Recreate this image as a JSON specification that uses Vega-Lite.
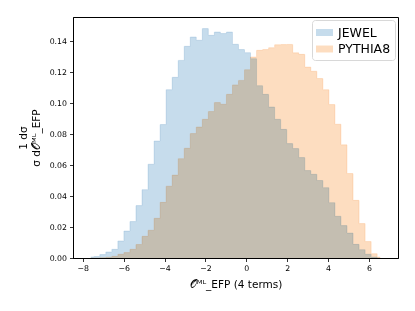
{
  "$schema": "https://vega.github.io/schema/vega-lite/v6.json",
  "width": 325,
  "height": 241,
  "autosize": {"type": "none"},
  "padding": {"left": 73, "top": 17, "right": 17, "bottom": 53},
  "background": "white",
  "config": {
    "font": "DejaVu Sans",
    "view": {"stroke": "black", "strokeWidth": 1},
    "axis": {
      "grid": false,
      "domainColor": "black",
      "tickColor": "black",
      "labelColor": "black",
      "titleColor": "black",
      "tickSize": 3.5,
      "tickWidth": 0.8,
      "domainWidth": 1,
      "labelFontSize": 7.8,
      "labelPadding": 3,
      "titleFontSize": 10.5,
      "titleFontWeight": "normal",
      "labelFont": "DejaVu Sans",
      "titleFont": "DejaVu Sans"
    }
  },
  "data": {
    "values": [
      {"sample": "JEWEL", "x": -7.612, "density": 0.0007},
      {"sample": "JEWEL", "x": -7.317, "density": 0.0009},
      {"sample": "JEWEL", "x": -7.022, "density": 0.0022},
      {"sample": "JEWEL", "x": -6.727, "density": 0.0039},
      {"sample": "JEWEL", "x": -6.432, "density": 0.0056},
      {"sample": "JEWEL", "x": -6.137, "density": 0.0110},
      {"sample": "JEWEL", "x": -5.842, "density": 0.0174},
      {"sample": "JEWEL", "x": -5.547, "density": 0.0235},
      {"sample": "JEWEL", "x": -5.252, "density": 0.0338},
      {"sample": "JEWEL", "x": -4.957, "density": 0.0441},
      {"sample": "JEWEL", "x": -4.662, "density": 0.0605},
      {"sample": "JEWEL", "x": -4.367, "density": 0.0755},
      {"sample": "JEWEL", "x": -4.072, "density": 0.0861},
      {"sample": "JEWEL", "x": -3.777, "density": 0.1086},
      {"sample": "JEWEL", "x": -3.482, "density": 0.1166},
      {"sample": "JEWEL", "x": -3.187, "density": 0.1275},
      {"sample": "JEWEL", "x": -2.892, "density": 0.1366},
      {"sample": "JEWEL", "x": -2.597, "density": 0.1426},
      {"sample": "JEWEL", "x": -2.302, "density": 0.1405},
      {"sample": "JEWEL", "x": -2.007, "density": 0.1480},
      {"sample": "JEWEL", "x": -1.712, "density": 0.1437},
      {"sample": "JEWEL", "x": -1.417, "density": 0.1458},
      {"sample": "JEWEL", "x": -1.122, "density": 0.1448},
      {"sample": "JEWEL", "x": -0.827, "density": 0.1458},
      {"sample": "JEWEL", "x": -0.532, "density": 0.1379},
      {"sample": "JEWEL", "x": -0.237, "density": 0.1345},
      {"sample": "JEWEL", "x": 0.058, "density": 0.1325},
      {"sample": "JEWEL", "x": 0.353, "density": 0.1286},
      {"sample": "JEWEL", "x": 0.648, "density": 0.1112},
      {"sample": "JEWEL", "x": 0.943, "density": 0.1056},
      {"sample": "JEWEL", "x": 1.238, "density": 0.0974},
      {"sample": "JEWEL", "x": 1.533, "density": 0.0895},
      {"sample": "JEWEL", "x": 1.828, "density": 0.0830},
      {"sample": "JEWEL", "x": 2.123, "density": 0.0738},
      {"sample": "JEWEL", "x": 2.418, "density": 0.0706},
      {"sample": "JEWEL", "x": 2.713, "density": 0.0648},
      {"sample": "JEWEL", "x": 3.008, "density": 0.0564},
      {"sample": "JEWEL", "x": 3.303, "density": 0.0540},
      {"sample": "JEWEL", "x": 3.598, "density": 0.0500},
      {"sample": "JEWEL", "x": 3.893, "density": 0.0454},
      {"sample": "JEWEL", "x": 4.188, "density": 0.0357},
      {"sample": "JEWEL", "x": 4.483, "density": 0.0269},
      {"sample": "JEWEL", "x": 4.778, "density": 0.0209},
      {"sample": "JEWEL", "x": 5.073, "density": 0.0161},
      {"sample": "JEWEL", "x": 5.368, "density": 0.0088},
      {"sample": "JEWEL", "x": 5.663, "density": 0.0054},
      {"sample": "JEWEL", "x": 5.958, "density": 0.0024},
      {"sample": "JEWEL", "x": 6.253, "density": 0.0006},
      {"sample": "JEWEL", "x": 6.548, "density": 0.0},
      {"sample": "PYTHIA8", "x": -7.612, "density": 0.0},
      {"sample": "PYTHIA8", "x": -7.317, "density": 0.0},
      {"sample": "PYTHIA8", "x": -7.022, "density": 0.0002},
      {"sample": "PYTHIA8", "x": -6.727, "density": 0.0005},
      {"sample": "PYTHIA8", "x": -6.432, "density": 0.0011},
      {"sample": "PYTHIA8", "x": -6.137, "density": 0.0024},
      {"sample": "PYTHIA8", "x": -5.842, "density": 0.0035},
      {"sample": "PYTHIA8", "x": -5.547, "density": 0.0056},
      {"sample": "PYTHIA8", "x": -5.252, "density": 0.0087},
      {"sample": "PYTHIA8", "x": -4.957, "density": 0.0140},
      {"sample": "PYTHIA8", "x": -4.662, "density": 0.0179},
      {"sample": "PYTHIA8", "x": -4.367, "density": 0.0256},
      {"sample": "PYTHIA8", "x": -4.072, "density": 0.0359},
      {"sample": "PYTHIA8", "x": -3.777, "density": 0.0463},
      {"sample": "PYTHIA8", "x": -3.482, "density": 0.0535},
      {"sample": "PYTHIA8", "x": -3.187, "density": 0.0641},
      {"sample": "PYTHIA8", "x": -2.892, "density": 0.0708},
      {"sample": "PYTHIA8", "x": -2.597, "density": 0.0803},
      {"sample": "PYTHIA8", "x": -2.302, "density": 0.0845},
      {"sample": "PYTHIA8", "x": -2.007, "density": 0.0895},
      {"sample": "PYTHIA8", "x": -1.712, "density": 0.0945},
      {"sample": "PYTHIA8", "x": -1.417, "density": 0.1003},
      {"sample": "PYTHIA8", "x": -1.122, "density": 0.0992},
      {"sample": "PYTHIA8", "x": -0.827, "density": 0.1056},
      {"sample": "PYTHIA8", "x": -0.532, "density": 0.1117},
      {"sample": "PYTHIA8", "x": -0.237, "density": 0.1146},
      {"sample": "PYTHIA8", "x": 0.058, "density": 0.1215},
      {"sample": "PYTHIA8", "x": 0.353, "density": 0.1297},
      {"sample": "PYTHIA8", "x": 0.648, "density": 0.1340},
      {"sample": "PYTHIA8", "x": 0.943, "density": 0.1345},
      {"sample": "PYTHIA8", "x": 1.238, "density": 0.1357},
      {"sample": "PYTHIA8", "x": 1.533, "density": 0.1376},
      {"sample": "PYTHIA8", "x": 1.828, "density": 0.1377},
      {"sample": "PYTHIA8", "x": 2.123, "density": 0.1378},
      {"sample": "PYTHIA8", "x": 2.418, "density": 0.1324},
      {"sample": "PYTHIA8", "x": 2.713, "density": 0.1314},
      {"sample": "PYTHIA8", "x": 3.008, "density": 0.1232},
      {"sample": "PYTHIA8", "x": 3.303, "density": 0.1205},
      {"sample": "PYTHIA8", "x": 3.598, "density": 0.1158},
      {"sample": "PYTHIA8", "x": 3.893, "density": 0.1086},
      {"sample": "PYTHIA8", "x": 4.188, "density": 0.0990},
      {"sample": "PYTHIA8", "x": 4.483, "density": 0.0863},
      {"sample": "PYTHIA8", "x": 4.778, "density": 0.0730},
      {"sample": "PYTHIA8", "x": 5.073, "density": 0.0545},
      {"sample": "PYTHIA8", "x": 5.368, "density": 0.0372},
      {"sample": "PYTHIA8", "x": 5.663, "density": 0.0222},
      {"sample": "PYTHIA8", "x": 5.958, "density": 0.0106},
      {"sample": "PYTHIA8", "x": 6.253, "density": 0.0028},
      {"sample": "PYTHIA8", "x": 6.548, "density": 0.0006}
    ]
  },
  "encoding": {
    "x": {
      "field": "x",
      "type": "quantitative",
      "scale": {"domain": [-8.48, 7.42], "nice": false, "zero": false},
      "axis": {
        "values": [-8, -6, -4, -2, 0, 2, 4, 6],
        "format": "d",
        "title": "𝒪ᴹᴸ_EFP (4 terms)",
        "titlePadding": 7
      }
    },
    "y": {
      "field": "density",
      "type": "quantitative",
      "stack": null,
      "scale": {"domain": [0, 0.1555], "nice": false, "zero": false},
      "axis": {
        "values": [0, 0.02, 0.04, 0.06, 0.08, 0.1, 0.12, 0.14],
        "format": ".2f",
        "title": ["1    dσ", "σ d𝒪ᴹᴸ_EFP"],
        "titlePadding": 8,
        "titleFontSize": 10.5
      }
    }
  },
  "layer": [
    {
      "mark": {"type": "area", "interpolate": "step", "blend": "multiply", "opacity": 1},
      "encoding": {
        "color": {
          "field": "sample",
          "type": "nominal",
          "scale": {"domain": ["JEWEL", "PYTHIA8"], "range": ["#c6dcec", "#fdddc0"]},
          "legend": {
            "title": null,
            "orient": "top-right",
            "offset": 3,
            "fillColor": "white",
            "strokeColor": "#d8d8d8",
            "cornerRadius": 3,
            "padding": 4,
            "labelFontSize": 12.5,
            "labelFont": "DejaVu Sans",
            "labelColor": "black",
            "labelOffset": 5,
            "rowPadding": 1.5,
            "symbolType": "M-1,-0.41H1V0.41H-1Z",
            "symbolSize": 289,
            "symbolStrokeWidth": 0,
            "symbolOpacity": 1
          }
        }
      }
    },
    {
      "mark": {"type": "line", "interpolate": "step", "blend": "multiply", "strokeWidth": 1, "opacity": 0.6},
      "encoding": {
        "color": {"field": "sample", "type": "nominal", "legend": null}
      }
    }
  ]
}
